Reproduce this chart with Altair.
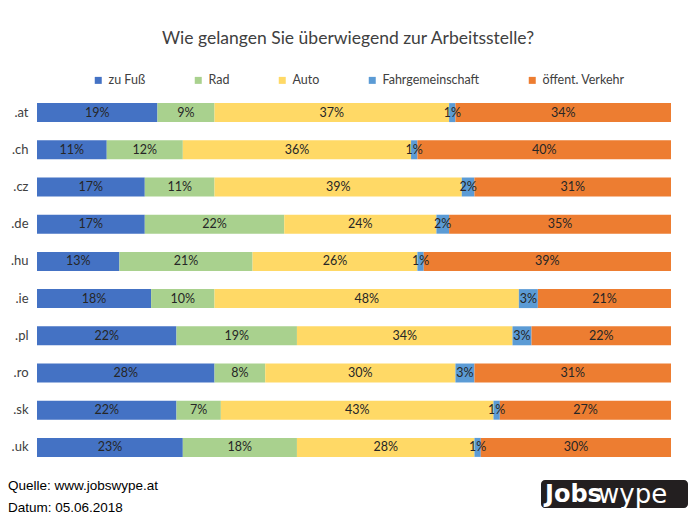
import altair as alt
import pandas as pd

countries = [".at", ".ch", ".cz", ".de", ".hu", ".ie", ".pl", ".ro", ".sk", ".uk"]
modes = ["zu Fuß", "Rad", "Auto", "Fahrgemeinschaft", "öffent. Verkehr"]
colors = ["#4472C4", "#A9D18E", "#FFD966", "#5B9BD5", "#ED7D31"]

zu_fuss = [19, 11, 17, 17, 13, 18, 22, 28, 22, 23]
rad = [9, 12, 11, 22, 21, 10, 19, 8, 7, 18]
auto = [37, 36, 39, 24, 26, 48, 34, 30, 43, 28]
fahrgemeinschaft = [1, 1, 2, 2, 1, 3, 3, 3, 1, 1]
oeffentlich = [34, 40, 31, 35, 39, 21, 22, 31, 27, 30]

series = [zu_fuss, rad, auto, fahrgemeinschaft, oeffentlich]
rows = []
for i, c in enumerate(countries):
    for j, m in enumerate(modes):
        rows.append({"land": c, "modus": m, "wert": series[j][i], "ord": j})
df = pd.DataFrame(rows)

FONT = "Lato"

y_enc = alt.Y(
    "land:N",
    sort=countries,
    scale=alt.Scale(paddingInner=0.49),
    axis=alt.Axis(title=None, domain=False, ticks=False, labelPadding=9,
                  labelFontSize=13, labelColor="#404040", labelFont=FONT),
)

base = alt.Chart(df)

bars = base.mark_bar().encode(
    y=y_enc,
    x=alt.X("wert:Q", stack="zero", scale=alt.Scale(domain=[0, 100], nice=False), axis=None),
    color=alt.Color(
        "modus:N",
        scale=alt.Scale(domain=modes, range=colors),
        legend=alt.Legend(
            title=None, orient="none", legendX=55, legendY=-20, direction="horizontal",
            symbolType="square", symbolSize=49, symbolStrokeWidth=0,
            labelFont=FONT, labelFontSize=12.5, labelColor="#404040",
            columnPadding=46, padding=0, labelOffset=4,
        ),
    ),
    order=alt.Order("ord:Q"),
)

labels = base.transform_stack(
    stack="wert", groupby=["land"], sort=[{"field": "ord", "order": "ascending"}], as_=["x0", "x1"]
).transform_calculate(
    mid="(datum.x0 + datum.x1) / 2", lab="datum.wert + '%'"
).mark_text(font=FONT, fontSize=12.5, color="#262626").encode(
    y=y_enc,
    x=alt.X("mid:Q", scale=alt.Scale(domain=[0, 100], nice=False), axis=None),
    text="lab:N",
)

footer_df = pd.DataFrame({"t": ["Quelle: www.jobswype.at", "Datum: 05.06.2018"], "k": [0, 1]})
quelle = alt.Chart(footer_df).transform_filter("datum.k == 0").mark_text(
    align="left", baseline="middle", font="Liberation Sans", fontSize=13.5, color="#000000"
).encode(x=alt.value(-29), y=alt.value(392), text="t:N")
datum = alt.Chart(footer_df).transform_filter("datum.k == 1").mark_text(
    align="left", baseline="middle", font="Liberation Sans", fontSize=13.5, color="#000000"
).encode(x=alt.value(-29), y=alt.value(414), text="t:N")

logo_df = pd.DataFrame({"a": ["Jobs"], "b": ["wype"]})
logo_bg = alt.Chart(logo_df).mark_rect(color="#231f20", cornerRadius=4).encode(
    x=alt.value(504), x2=alt.value(651), y=alt.value(386), y2=alt.value(414)
)
logo_a = alt.Chart(logo_df).mark_text(
    align="left", baseline="middle", font="DejaVu Sans", fontSize=24, fontWeight="bold", color="white"
).encode(x=alt.value(508), y=alt.value(401), text="a:N")
logo_b = alt.Chart(logo_df).mark_text(
    align="left", baseline="middle", font="DejaVu Sans", fontSize=26, fontWeight="normal", color="white"
).encode(x=alt.value(561), y=alt.value(401), text="b:N")

chart = alt.layer(bars, labels, quelle, datum, logo_bg, logo_a, logo_b).properties(
    width=634,
    height=372,
    background="white",
    autosize=alt.AutoSizeParams(type="none"),
    padding={"left": 29, "right": 17, "top": 86, "bottom": 48},
    title=alt.Title(
        "Wie gelangen Sie überwiegend zur Arbeitsstelle?",
        font=FONT, fontSize=17.5, fontWeight="normal", color="#404040",
        anchor="middle", dx=-6, offset=27,
    ),
).configure_view(stroke=None)

chart.save("out.html", embed_options={"renderer": "svg", "actions": False})
